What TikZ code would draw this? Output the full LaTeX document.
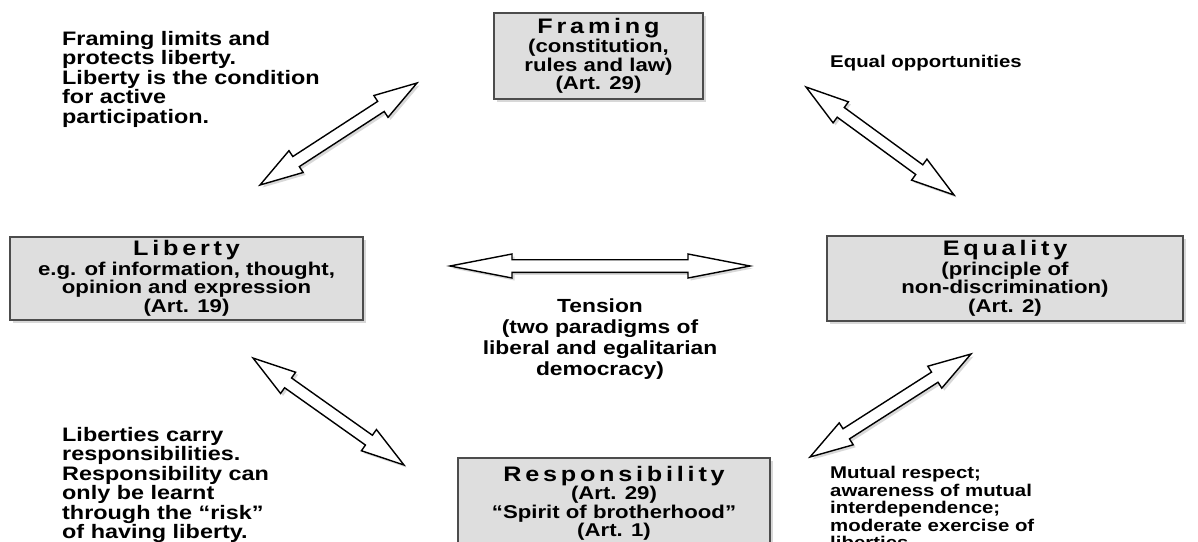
\documentclass[tikz,border=0pt]{standalone}
\usepackage{fontspec}
\setmainfont{Liberation Sans}[FakeStretch=1.2]
\newfontfamily\headfont{Liberation Sans}[FakeStretch=1.2,LetterSpace=18]
\usetikzlibrary{calc,shadows}
\tikzset{
  box/.style={draw=black!70, line width=1.2pt, fill=black!13,
    drop shadow={shadow xshift=2.5pt, shadow yshift=-2.5pt, opacity=0.3},
    inner sep=0pt, align=center, font=\bfseries\fontsize{18.5}{18.5}\selectfont},
  sidetext/.style={inner sep=0pt, align=left, font=\bfseries\fontsize{19.5}{19.5}\selectfont},
  righttext/.style={inner sep=0pt, align=left, font=\bfseries\fontsize{17}{17.5}\selectfont},
  arrowshape/.style={draw=black, fill=white, line width=1.4pt, line join=miter,
    drop shadow={shadow xshift=2.5pt, shadow yshift=-2.5pt, opacity=0.3}},
}
\newcommand\hd[1]{{\headfont\bfseries\fontsize{21}{20}\selectfont #1}}
% double arrow between two named coordinates: #1,#2 ends; #3 head length; #4 half head width; #5 half shaft width
\newcommand\twoway[5]{%
  \draw[arrowshape] (#1)
    -- ($(#1)!#3!(#2)!#4!90:(#2)$)
    -- ($(#1)!#3!(#2)!#5!90:(#2)$)
    -- ($(#2)!#3!(#1)!#5!-90:(#1)$)
    -- ($(#2)!#3!(#1)!#4!-90:(#1)$)
    -- (#2)
    -- ($(#2)!#3!(#1)!#4!90:(#1)$)
    -- ($(#2)!#3!(#1)!#5!90:(#1)$)
    -- ($(#1)!#3!(#2)!#5!-90:(#2)$)
    -- ($(#1)!#3!(#2)!#4!-90:(#2)$)
    -- cycle;}
\begin{document}
\begin{tikzpicture}[x=1pt,y=-1pt]
\useasboundingbox (0,0) rectangle (1198,541);
\fill[white] (0,0) rectangle (1198,541);

\node[box, minimum width=209, minimum height=86] (framing) at (598.5,56)
  {\hd{Framing}\\[1pt](constitution,\\rules and law)\\(Art. 29)};
\node[box, minimum width=353, minimum height=83] (liberty) at (186.5,278.5)
  {\hd{Liberty}\\[1pt]e.g. of information, thought,\\opinion and expression\\(Art. 19)};
\node[box, minimum width=356, minimum height=85] (equality) at (1005,278.5)
  {\hd{Equality}\\[1pt](principle of\\non-discrimination)\\(Art. 2)};
\node[box, minimum width=312, minimum height=91] (resp) at (614,503.5)
  {\hd{Responsibility}\\[0pt](Art. 29)\\“Spirit of brotherhood”\\(Art. 1)};

\node[sidetext, anchor=north west] (tfl) at (62,31)
  {Framing limits and\\protects liberty.\\Liberty is the condition\\for active\\participation.};
\node[righttext, anchor=north west] (teq) at (830,55) {Equal opportunities};
\node[sidetext, anchor=north, align=center, font=\bfseries\fontsize{19}{21}\selectfont] (tten) at (600,299)
  {Tension\\(two paradigms of\\liberal and egalitarian\\democracy)};
\node[sidetext, anchor=north west] (tlr) at (62,427)
  {Liberties carry\\responsibilities.\\Responsibility can\\only be learnt\\through the “risk”\\of having liberty.};
\node[righttext, anchor=north west] (tmr) at (830,466)
  {Mutual respect;\\awareness of mutual\\interdependence;\\moderate exercise of\\liberties.};

\coordinate (a1) at (260,185); \coordinate (a2) at (417,83);
\coordinate (b1) at (806,87);  \coordinate (b2) at (954,195);
\coordinate (t1) at (450,266); \coordinate (t2) at (750,266);
\coordinate (c1) at (253,358); \coordinate (c2) at (404,465);
\coordinate (d1) at (971,354); \coordinate (d2) at (810,457);

\twoway{a1}{a2}{43pt}{13pt}{6pt}
\twoway{b1}{b2}{43pt}{13pt}{6pt}
\twoway{t1}{t2}{62pt}{12pt}{6.3pt}
\twoway{c1}{c2}{43pt}{13pt}{6pt}
\twoway{d1}{d2}{43pt}{13pt}{6pt}
\end{tikzpicture}
\end{document}
